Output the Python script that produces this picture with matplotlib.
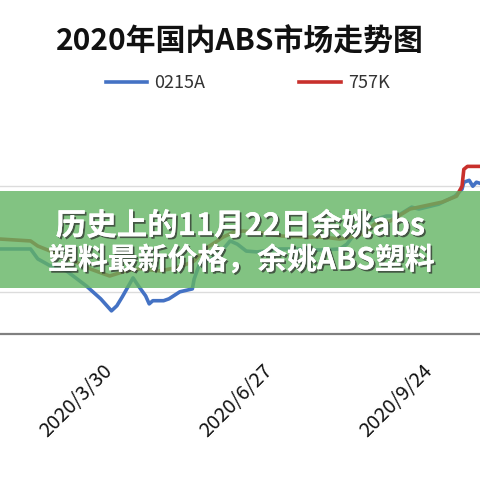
import matplotlib
matplotlib.use("Agg")
import matplotlib.pyplot as plt
import matplotlib.patheffects as pe
import matplotlib.transforms as mtransforms
from matplotlib.patches import Rectangle
import numpy as np

plt.rcParams['font.family'] = ['Noto Sans CJK SC', 'DejaVu Sans']

# 0215A
dates_a = ["2020-01-28", "2020-02-14", "2020-02-18", "2020-02-25", "2020-03-05", "2020-03-16",
           "2020-03-24", "2020-03-30", "2020-04-02", "2020-04-05", "2020-04-11", "2020-04-14",
           "2020-04-18", "2020-04-20", "2020-04-22", "2020-04-28", "2020-05-01", "2020-05-07",
           "2020-05-14", "2020-05-15", "2020-05-18", "2020-05-28", "2020-06-04", "2020-06-08",
           "2020-06-13", "2020-06-19", "2020-07-02", "2020-07-13", "2020-07-24", "2020-08-04",
           "2020-08-08", "2020-08-13", "2020-08-19", "2020-08-24", "2020-08-30", "2020-09-05",
           "2020-09-13", "2020-09-17", "2020-09-28", "2020-10-07", "2020-10-11", "2020-10-12",
           "2020-10-15", "2020-10-17", "2020-10-19", "2020-10-21"]
price_a = [12030, 12030, 11560, 11230, 10990, 10280,
           9670, 9100, 9340, 9760, 10660, 10280,
           9810, 9430, 9580, 9580, 9670, 10000,
           10140, 10610, 11320, 11700, 12410, 12260,
           11930, 11890, 12030, 12030, 11980, 12030,
           12260, 12830, 13350, 13440, 13590, 13590,
           14010, 13920, 14150, 14530, 14860, 15190,
           15280, 15000, 15190, 15140]

# 757K
dates_k = ["2020-01-28", "2020-02-14", "2020-02-18", "2020-02-25", "2020-03-09", "2020-03-18",
           "2020-03-29", "2020-04-07", "2020-04-15", "2020-04-26", "2020-05-07", "2020-05-15",
           "2020-05-21", "2020-05-27", "2020-05-31", "2020-06-06", "2020-06-11", "2020-06-19",
           "2020-07-03", "2020-07-17", "2020-07-26", "2020-08-04", "2020-08-10", "2020-08-17",
           "2020-08-24", "2020-09-01", "2020-09-12", "2020-09-30", "2020-10-08", "2020-10-11",
           "2020-10-12", "2020-10-14", "2020-10-21"]
price_k = [12500, 12410, 12170, 11930, 11460, 11090,
           10750, 10990, 11090, 10990, 11180, 11460,
           12030, 12360, 12590, 12830, 12880, 12830,
           12640, 12590, 12590, 12500, 12590, 12740,
           13250, 13350, 13920, 14250, 14530, 15000,
           15800, 15940, 15940]

tick_dates = ["2020-03-30", "2020-06-27", "2020-09-24"]
tick_labels = ["2020/3/30", "2020/6/27", "2020/9/24"]

fig = plt.figure(figsize=(4.8, 4.8), dpi=100)
ax = fig.add_axes([0, 0.304, 1, 0.44])

ax.plot(np.array(dates_a, dtype="datetime64[D]"), price_a, color="#4472c4", lw=2.6, label="0215A")
ax.plot(np.array(dates_k, dtype="datetime64[D]"), price_k, color="#c8302c", lw=2.6, label="757K")

ax.set_xlim(np.datetime64("2020-01-28"), np.datetime64("2020-10-21"))
ax.set_ylim(8000, 18000)
ax.set_yticks([10000, 15000])
ax.set_yticklabels([])
ax.tick_params(axis="y", length=0)
ax.grid(axis="y", color="#dcdcdc", lw=1)
ax.set_axisbelow(True)
for s in ["top", "left", "right"]:
    ax.spines[s].set_visible(False)
ax.spines["bottom"].set_color("#808080")
ax.spines["bottom"].set_linewidth(1.6)

ax.set_xticks(np.array(tick_dates, dtype="datetime64[D]"))
ax.set_xticklabels(tick_labels, rotation=45, ha="right", va="top",
                   rotation_mode="anchor", fontsize=14.5, color="#111111")
ax.tick_params(axis="x", length=0, pad=19)
# nudge labels left a bit, like the excel layout
shift = mtransforms.ScaledTranslation(-0.09, 0, fig.dpi_scale_trans)
for lab in ax.get_xticklabels():
    lab.set_transform(lab.get_transform() + shift)

fig.text(0.499, 0.9125, "2020年国内ABS市场走势图", ha="center", va="center",
         fontsize=21.5, fontweight="bold", color="#111111")

fig.legend(loc="center", bbox_to_anchor=(0.516, 0.827), ncol=2, frameon=False,
           fontsize=13, handlelength=2.3, handletextpad=0.4, columnspacing=5.2,
           labelcolor="#333333")

# green banner overlay
fig.patches.append(Rectangle((0, 0.4), 1, 0.202, transform=fig.transFigure,
                             facecolor="#63b463", alpha=0.8, edgecolor="none", zorder=5))
shadow = [pe.withSimplePatchShadow(offset=(1.3, -1.3), shadow_rgbFace="#2a2a2a", alpha=0.7), pe.Normal()]
fig.text(0.5, 0.529, "历史上的11月22日余姚abs", ha="center", va="center", fontsize=22,
         fontweight="bold", color="white", zorder=6, path_effects=shadow)
fig.text(0.503, 0.458, "塑料最新价格，余姚ABS塑料", ha="center", va="center", fontsize=21.5,
         fontweight="bold", color="white", zorder=6, path_effects=shadow)

fig.savefig("out.png", dpi=100)
